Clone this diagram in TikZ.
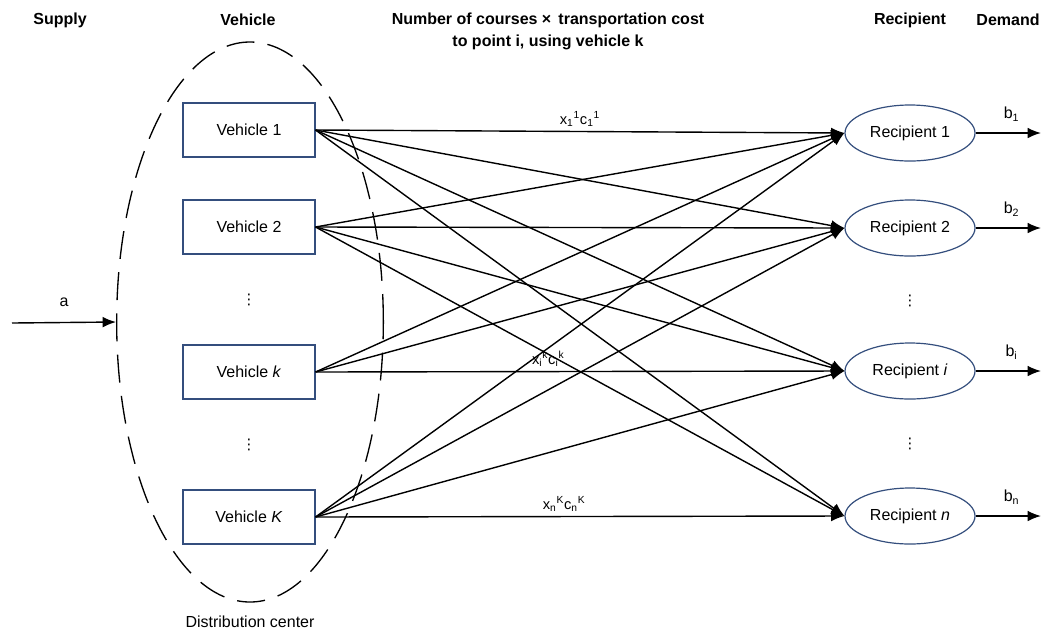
\documentclass[tikz,border=0pt]{standalone}
\usepackage{fontspec}
\setmainfont{Liberation Sans}
\newfontfamily\dotsfont{DejaVu Sans}
\usetikzlibrary{arrows.meta,shapes.geometric}
\definecolor{boxblue}{RGB}{52,78,125}

\begin{document}
\begin{tikzpicture}[x=0.75pt,y=-0.75pt,->,>={Latex[length=10pt,width=8pt]},line width=1.05pt,
    font=\fontsize{12}{16.5}\selectfont,
    vbox/.style={rectangle,draw=boxblue,line width=0.8pt,minimum width=99pt,minimum height=40.5pt},
    rcp/.style={ellipse,draw=boxblue,line width=0.9pt,minimum width=97.5pt,minimum height=42pt},
    dots/.style={inner sep=0pt,font=\dotsfont\fontsize{11}{11}\selectfont},
    head/.style={font=\fontsize{12}{16.5}\selectfont\bfseries,align=center},
    lbl/.style={font=\fontsize{11}{13}\selectfont}]
		\useasboundingbox (0,0) rectangle (1045,633);
		% headings
		\node[head]                      (hs)   at (60,20)       {Supply};
		\node[head]                      (hv)   at (248,20)      {Vehicle};
		\node[head]                      (hc)   at (548,31)      {Number of courses ×\, transportation cost\\to point i, using vehicle k};
		\node[head]                      (hr)   at (910,20)      {Recipient};
		\node[head]                      (hd)   at (1008,20)     {Demand};
		% distribution center
		\node[ellipse,draw,dashed,dash pattern=on 21pt off 10pt,line width=1pt,
		      minimum width=200pt,minimum height=420pt] (dc) at (250,322) {};
		\node                            (dcl)  at (250,622)     {Distribution center};
		% vehicles
		\node[vbox]                      (V1)   at (249,130)     {Vehicle 1};
		\node[vbox]                      (V2)   [below of=V1,node distance=72.75pt] {Vehicle 2};
		\node[dots]                      (Vd1)  [below of=V2,node distance=54.75pt] {⋮};
		\node[vbox]                      (Vk)   [below of=V2,node distance=108.75pt] {Vehicle \textit{k}};
		\node[dots]                      (Vd2)  [below of=Vk,node distance=54.75pt] {⋮};
		\node[vbox]                      (VK)   [below of=Vk,node distance=108.75pt] {Vehicle \textit{K}};
		% recipients
		\node[rcp]                       (R1)   at (910,133)     {Recipient 1};
		\node[rcp]                       (R2)   [below of=R1,node distance=71.25pt] {Recipient 2};
		\node[dots]                      (Rd1)  [below of=R2,node distance=54.75pt] {⋮};
		\node[rcp]                       (Ri)   [below of=R2,node distance=107.25pt] {Recipient \textit{i}};
		\node[dots]                      (Rd2)  [below of=Ri,node distance=54.75pt] {⋮};
		\node[rcp]                       (Rn)   [below of=Ri,node distance=108.75pt] {Recipient \textit{n}};
		% supply
		\coordinate                      (sa)   at (12,323);
		\path (sa) edge node[above=8pt] {a} (dc.west);
		% courses
		\path (V1.east) edge node[lbl,above,pos=0.5] {x\textsubscript{1}\textsuperscript{1}c\textsubscript{1}\textsuperscript{1}} (R1.west)
		                edge (R2.west)
		                edge (Ri.west)
		                edge (Rn.west)
		      (V2.east) edge (R1.west)
		                edge (R2.west)
		                edge (Ri.west)
		                edge (Rn.west)
		      (Vk.east) edge (R1.west)
		                edge (R2.west)
		                edge node[lbl,above,pos=0.44] {x\textsubscript{i}\textsuperscript{k}c\textsubscript{i}\textsuperscript{k}} (Ri.west)
		      (VK.east) edge (R1.west)
		                edge (R2.west)
		                edge (Ri.west)
		                edge node[lbl,above,pos=0.47] {x\textsubscript{n}\textsuperscript{K}c\textsubscript{n}\textsuperscript{K}} (Rn.west);
		% demand
		\foreach \r/\b in {R1/1,R2/2,Ri/i,Rn/n}{
		  \coordinate (o\b) at ([xshift=49pt]\r.east);
		  \path (\r.east) edge node[above=5pt,pos=0.55] {b\textsubscript{\b}} (o\b);
		}
\end{tikzpicture}
\end{document}
